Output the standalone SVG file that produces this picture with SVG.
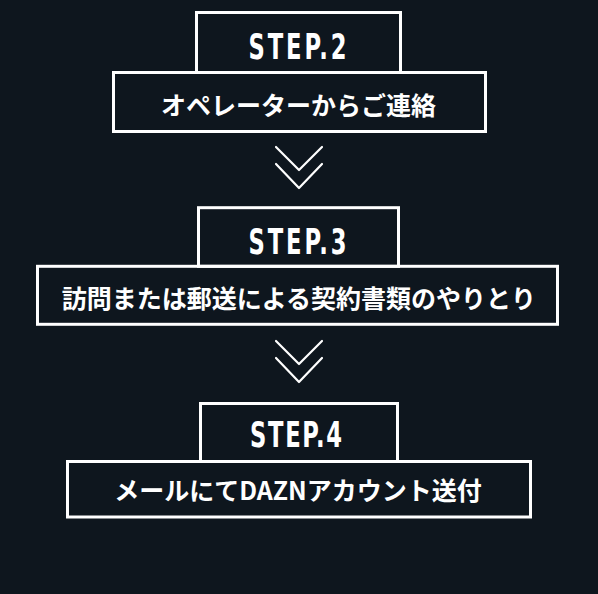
<svg xmlns="http://www.w3.org/2000/svg" width="598" height="594" viewBox="0 0 598 594">
  <style>
    .box { fill: none; stroke: #ffffff; stroke-width: 3; }
    .step { fill: #ffffff; font-family: "DejaVu Sans Condensed", "Liberation Sans", sans-serif; font-weight: bold; font-size: 35px; text-anchor: middle; }
    .label { fill: #ffffff; font-family: "Noto Sans CJK JP", "Noto Sans", sans-serif; font-weight: bold; font-size: 25px; text-anchor: middle; }
    .chev { fill: none; stroke: #ffffff; stroke-width: 2.2; stroke-linecap: round; stroke-linejoin: round; }
  </style>
  <rect x="0" y="0" width="598" height="594" fill="#0e161e"/>

  <g id="step2">
    <rect class="box" x="196.5" y="12.5" width="204" height="60"/>
    <rect class="box" x="113.5" y="72.5" width="372" height="59"/>
    <text class="step" transform="translate(297.5 59.3) scale(0.72 1)" x="0" y="0" textLength="136" lengthAdjust="spacing">STEP.2</text>
    <text class="label" x="298.5" y="115">オペレーターからご連絡</text>
  </g>

  <g id="step3">
    <rect class="box" x="198.5" y="207.7" width="200" height="58.6"/>
    <rect class="box" x="37.5" y="266.3" width="520" height="58"/>
    <text class="step" transform="translate(297.5 254.3) scale(0.72 1)" x="0" y="0" textLength="136" lengthAdjust="spacing">STEP.3</text>
    <text class="label" x="299" y="308">訪問または郵送による契約書類のやりとり</text>
  </g>

  <g id="step4">
    <rect class="box" x="200.5" y="403.5" width="197" height="58"/>
    <rect class="box" x="67.5" y="461.5" width="463" height="55.5"/>
    <text class="step" transform="translate(296 446.7) scale(0.72 1)" x="0" y="0" textLength="128" lengthAdjust="spacing">STEP.4</text>
    <text class="label" x="298" y="500">メールにてDAZNアカウント送付</text>
  </g>

  <g id="connectors">
    <polyline class="chev" points="276,147 299,170 322,147"/>
    <polyline class="chev" points="276,164 299,188 322,164"/>
    <polyline class="chev" points="276,341 299,364 322,341"/>
    <polyline class="chev" points="276,358 299,382 322,358"/>
  </g>
</svg>
